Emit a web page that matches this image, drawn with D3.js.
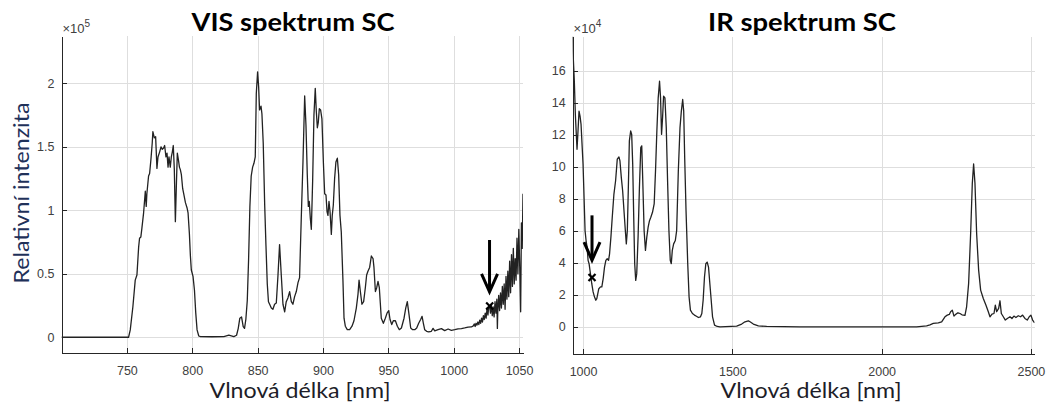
<!DOCTYPE html>
<html>
<head>
<meta charset="utf-8">
<script src="https://cdn.jsdelivr.net/npm/d3@7"></script>
<style>
  body { margin: 0; background: #fff; }
  .axis path, .axis line { stroke: #262626; shape-rendering: crispEdges; }
  .axis text { font-family: "Liberation Sans", Arial, sans-serif; font-size: 12.5px; fill: #404040; }
  .grid line { stroke: #dedede; stroke-width: 1; shape-rendering: crispEdges; }
  .line { fill: none; stroke: #222; stroke-width: 1.3; stroke-linejoin: round; }
  .title { font-family: Lato, "Open Sans", sans-serif; font-weight: bold; font-size: 25px; fill: #000; }
  .xlabel { font-family: Lato, "Open Sans", sans-serif; font-size: 21px; fill: #1d1d28; }
  .ylabel { font-family: Lato, "Open Sans", sans-serif; font-size: 21px; fill: #1f3159; }
  .expo { font-family: "Liberation Sans", Arial, sans-serif; font-size: 13px; fill: #404040; }
</style>
</head>
<body>
<svg id="chart" width="1047" height="403"></svg>
<script>
// VIS spectrum (intensity in units of 10^5)
const visWave = [
  700, 751.3, 752.6, 754.6, 756.4, 757.7, 759.0, 759.7, 760.7, 761.5,
  762.8, 764.1, 764.8, 765.3, 766.6, 767.4, 768.4, 769.4, 769.9, 771.0,
  772.0, 773.0, 773.8, 775.1, 776.1, 777.1, 778.1, 778.9, 779.9, 780.7,
  781.5, 782.2, 783.2, 784.0, 784.8, 785.5, 786.3, 787.1, 787.9, 788.6,
  789.4, 790.2, 790.9, 791.7, 792.7, 793.5, 794.8, 796.0, 796.8, 797.8,
  798.6, 799.3, 800.6, 801.7, 802.7, 803.7, 805.0, 806.3, 815.0, 824.2,
  828.0, 831.8, 833.9, 835.2, 836.4, 837.7, 839.0, 840.0, 841.0, 842.1,
  843.1, 844.1, 845.1, 846.2, 847.2, 848.2, 849.0, 850.0, 850.8, 851.5,
  852.6, 853.3, 854.3, 855.4, 856.4, 857.4, 858.3, 859.2, 860.5, 861.7,
  863.0, 864.3, 865.6, 866.8, 868.1, 869.4, 870.7, 871.9, 873.2, 874.5,
  875.8, 877.0, 878.3, 879.6, 880.9, 882.1, 883.4, 884.7, 886.0, 887.0,
  888.0, 888.8, 889.5, 890.3, 891.1, 892.1, 893.1, 894.1, 894.9, 895.7,
  896.4, 897.2, 898.2, 899.2, 900.3, 901.3, 902.3, 903.1, 903.8, 904.6,
  905.4, 906.4, 907.1, 907.9, 908.9, 909.9, 911.0, 912.0, 913.0, 914.0,
  915.3, 916.1, 917.1, 918.6, 920.4, 922.2, 923.7, 925.5, 926.8, 927.6,
  928.6, 929.8, 931.1, 932.4, 933.4, 934.4, 935.7, 937.0, 938.3, 939.0,
  940.1, 941.1, 942.1, 943.1, 944.6, 946.2, 947.7, 949.0, 950.3, 951.3,
  952.6, 953.8, 955.4, 956.9, 958.4, 960.0, 962.0, 963.3, 964.5, 965.8,
  967.1, 968.6, 970.2, 971.7, 973.2, 974.7, 975.8, 976.8, 977.8, 979.3,
  980.9, 982.9, 984.2, 985.5, 988.0, 990.6, 993.1, 995.7, 998.2, 1000.8,
  1003.3, 1005.9, 1008.4, 1011.0, 1013.5, 1015.0, 1015.7, 1016.4, 1017.1, 1017.8,
  1018.5, 1019.2, 1019.9, 1020.6, 1021.3, 1022.0, 1022.7, 1023.4, 1024.1, 1024.8,
  1025.5, 1026.2, 1026.9, 1027.5, 1028.1, 1028.8, 1029.5, 1030.2, 1030.9, 1031.6,
  1032.3, 1033.0, 1033.4, 1033.7, 1034.4, 1035.1, 1035.8, 1036.5, 1037.2, 1037.9,
  1038.6, 1039.3, 1040.0, 1040.7, 1041.4, 1042.1, 1042.8, 1043.5, 1044.2, 1044.9,
  1045.6, 1046.3, 1047.0, 1047.7, 1048.4, 1049.1, 1049.8, 1050.5, 1051.2, 1051.8,
  1052.4, 1053.0
];
const visInt = [
  0, 0, 0.058, 0.24, 0.45, 0.49, 0.71, 0.78, 0.79, 0.86,
  0.98, 1.15, 1.03, 1.13, 1.27, 1.29, 1.40, 1.53, 1.62, 1.57,
  1.58, 1.33, 1.42, 1.46, 1.50, 1.48, 1.49, 1.51, 1.42, 1.45,
  1.34, 1.42, 1.34, 1.42, 1.46, 1.51, 1.32, 0.91, 1.21, 1.45,
  1.40, 1.34, 1.32, 1.28, 1.17, 1.13, 1.06, 1.02, 0.98, 0.82,
  0.64, 0.53, 0.48, 0.37, 0.19, 0.058, 0.01, 0.005, 0.004, 0.005,
  0.016, 0.005, 0.016, 0.07, 0.15, 0.16, 0.084, 0.07, 0.14, 0.29,
  0.61, 1.03, 1.27, 1.34, 1.37, 1.42, 1.92, 2.09, 1.97, 1.79,
  1.82, 1.76, 1.53, 1.05, 0.72, 0.42, 0.28, 0.26, 0.23, 0.22,
  0.26, 0.27, 0.49, 0.73, 0.49, 0.26, 0.20, 0.28, 0.31, 0.36,
  0.28, 0.26, 0.32, 0.36, 0.43, 0.47, 0.94, 1.38, 1.90, 1.67,
  1.28, 1.03, 1.07, 0.94, 0.85, 1.23, 1.75, 1.96, 1.78, 1.65,
  1.69, 1.80, 1.79, 1.72, 1.38, 1.13, 1.12, 0.99, 0.96, 1.07,
  0.99, 0.81, 0.96, 1.04, 1.25, 1.38, 1.41, 1.28, 0.96, 0.83,
  0.44, 0.15, 0.087, 0.06, 0.06, 0.087, 0.13, 0.23, 0.34, 0.45,
  0.36, 0.26, 0.28, 0.39, 0.49, 0.52, 0.55, 0.64, 0.62, 0.55,
  0.36, 0.39, 0.44, 0.39, 0.15, 0.11, 0.15, 0.19, 0.21, 0.14,
  0.10, 0.13, 0.13, 0.087, 0.06, 0.073, 0.15, 0.23, 0.28, 0.18,
  0.073, 0.06, 0.06, 0.073, 0.11, 0.14, 0.165, 0.11, 0.06, 0.047,
  0.042, 0.047, 0.07, 0.05, 0.06, 0.068, 0.052, 0.065, 0.055, 0.06,
  0.066, 0.068, 0.073, 0.079, 0.081, 0.090, 0.105, 0.085, 0.110, 0.095,
  0.120, 0.100, 0.135, 0.110, 0.150, 0.120, 0.170, 0.140, 0.190, 0.150,
  0.230, 0.175, 0.250, 0.246, 0.190, 0.260, 0.170, 0.240, 0.160, 0.280,
  0.190, 0.300, 0.070, 0.200, 0.330, 0.210, 0.350, 0.230, 0.400, 0.260,
  0.420, 0.220, 0.480, 0.300, 0.520, 0.320, 0.600, 0.350, 0.650, 0.400,
  0.700, 0.420, 0.620, 0.450, 0.780, 0.500, 0.850, 0.550, 0.200, 0.900,
  0.700, 1.130
];

// IR spectrum (intensity in units of 10^4)
const irWave = [
  965, 966.3, 970.8, 974.2, 979.8, 983.1, 986.5, 989.9, 993.3, 996.6,
  1000, 1003.4, 1006.7, 1010.1, 1013.5, 1016.9, 1020.2, 1024.7, 1029.2, 1033.7,
  1038.2, 1042.7, 1046.1, 1049.4, 1052.8, 1058.4, 1062.9, 1067.4, 1071.9, 1076.4,
  1080.9, 1085.4, 1088.8, 1093.3, 1097.8, 1103.4, 1109.0, 1114.6, 1120.2, 1123.6,
  1128.1, 1132.6, 1137.1, 1141.6, 1144.9, 1148.3, 1151.7, 1155.1, 1159.5, 1162.9,
  1166.3, 1169.7, 1173.0, 1176.4, 1179.8, 1184.3, 1188.8, 1193.3, 1196.6, 1200.0,
  1204.5, 1209.0, 1213.5, 1218.0, 1222.5, 1227.0, 1232.6, 1238.2, 1242.7, 1247.2,
  1251.7, 1256.2, 1259.6, 1262.9, 1266.3, 1269.7, 1274.2, 1278.7, 1283.1, 1287.6,
  1292.1, 1295.5, 1298.9, 1303.4, 1309.0, 1313.5, 1319.1, 1324.7, 1329.2, 1333.7,
  1337.1, 1340.4, 1344.9, 1350.6, 1355.1, 1359.6, 1366.3, 1373.0, 1379.8, 1386.5,
  1393.3, 1397.8, 1402.2, 1406.7, 1411.2, 1415.7, 1420.2, 1424.7, 1429.2, 1433.7,
  1440.4, 1449.4, 1458.7, 1514.5, 1531.3, 1542.4, 1553.6, 1559.2, 1570.3, 1587.1,
  1615.0, 1726.6, 1949.8, 2117.2, 2150.7, 2161.9, 2173.0, 2189.8, 2201.0, 2212.1,
  2219.9, 2226.6, 2231.1, 2236.7, 2242.3, 2249.0, 2255.7, 2262.4, 2269.1, 2279.1,
  2284.6, 2291.4, 2298.1, 2303.7, 2308.1, 2312.6, 2318.2, 2324.9, 2331.6, 2340.5,
  2349.5, 2357.3, 2362.9, 2369.6, 2376.3, 2380.8, 2385.2, 2391.9, 2396.4, 2400.9,
  2407.6, 2414.3, 2421.0, 2429.9, 2436.4, 2443.1, 2449.8, 2457.6, 2465.4, 2472.1,
  2479.9, 2487.7, 2494.4, 2500.0, 2505.6, 2512.3
];
const irInt = [
  18.5, 17.2, 15.34, 13.26, 11.09, 12.23, 13.47, 13.16, 12.64, 11.40,
  10.16, 8.08, 6.01, 5.39, 4.97, 4.15, 3.94, 3.32, 2.69, 2.18,
  1.87, 1.66, 1.76, 2.07, 2.38, 2.49, 2.49, 3.01, 3.73, 4.15,
  4.25, 4.15, 4.56, 5.60, 6.84, 8.29, 9.12, 10.47, 10.61, 10.36,
  9.33, 8.50, 7.25, 6.01, 5.18, 6.01, 8.70, 11.61, 12.23, 12.02,
  10.16, 6.84, 3.94, 2.90, 3.32, 5.60, 8.70, 11.19, 11.30, 9.12,
  6.01, 4.77, 5.60, 6.22, 6.63, 6.84, 7.15, 7.67, 9.74, 12.23,
  14.30, 15.34, 14.30, 12.02, 13.06, 14.40, 14.30, 12.44, 9.12, 6.01,
  4.15, 3.94, 4.77, 5.18, 5.39, 6.01, 9.74, 12.44, 13.47, 14.20,
  13.47, 10.57, 7.25, 3.94, 1.87, 1.04, 0.83, 0.73, 0.66, 0.58,
  0.62, 0.83, 1.66, 3.11, 3.94, 4.04, 3.73, 2.69, 1.66, 0.62,
  0.10, 0.02, 0.0, 0.04, 0.17, 0.31, 0.375, 0.31, 0.17, 0.06,
  0.02, 0.0, 0.0, 0.0, 0.06, 0.125, 0.21, 0.25, 0.31, 0.625,
  0.73, 0.77, 0.94, 1.04, 0.67, 0.79, 0.875, 0.83, 0.75, 0.71,
  1.25, 2.71, 5.83, 8.96, 10.17, 8.96, 5.83, 3.54, 2.29, 1.77,
  1.35, 0.94, 0.625, 0.79, 0.83, 1.35, 0.94, 1.15, 1.625, 0.83,
  0.625, 0.42, 0.52, 0.625, 0.52, 0.67, 0.58, 0.69, 0.625, 0.73,
  0.52, 0.42, 0.625, 0.73, 0.42, 0.25
];

// Tick values and labels
const visXTicks = [750, 800, 850, 900, 950, 1000, 1050];
const visYTicks = [0, 0.5, 1, 1.5, 2];
const visYTickLabels = ["0", "0.5", "1", "1.5", "2"];
const irXTicks = [1000, 1500, 2000, 2500];
const irYTicks = [0, 2, 4, 6, 8, 10, 12, 14, 16];

// Marked point and arrow: [wavelength, value] / [wavelength, arrow top, arrow tip]
const visMarker = [1027.5, 0.246];
const visArrow = [1027.4, 0.766, 0.357];
const irMarker = [1030, 3.08];
const irArrow = [1030, 6.96, 4.16];

let svg = d3.select("#chart");

function drawPanel(p) {
    let x = d3.scaleLinear().domain(p.xDomain).range([p.left, p.right]);
    let y = d3.scaleLinear().domain(p.yDomain).range([p.bottom, p.top]);

    let g = svg.append("g");

    // Grid lines
    let grid = g.append("g").attr("class", "grid");
    grid.selectAll(".vx").data(p.xTicks).enter().append("line")
        .attr("x1", d => Math.round(x(d)) + 0.5).attr("x2", d => Math.round(x(d)) + 0.5)
        .attr("y1", p.top).attr("y2", p.bottom);
    grid.selectAll(".hy").data(p.yTicks).enter().append("line")
        .attr("x1", p.left).attr("x2", p.right)
        .attr("y1", d => Math.round(y(d)) + 0.5).attr("y2", d => Math.round(y(d)) + 0.5);

    // Spectrum line, clipped to the axes box
    g.append("clipPath").attr("id", p.id + "clip").append("rect")
        .attr("x", p.left).attr("y", p.top)
        .attr("width", p.right - p.left).attr("height", p.bottom - p.top);

    let valueline = d3.line()
        .x(function(d) { return x(d[0]); })
        .y(function(d) { return y(d[1]); });

    g.append("path")
        .datum(d3.zip(p.wave, p.inten))
        .attr("class", "line")
        .attr("clip-path", "url(#" + p.id + "clip)")
        .attr("d", valueline);

    // Axes (MATLAB style: ticks point inwards)
    g.append("g")
        .attr("class", "axis")
        .attr("transform", "translate(0," + p.bottom + ")")
        .call(d3.axisBottom(x).tickValues(p.xTicks).tickFormat(d3.format("d"))
            .tickSizeInner(-5).tickSizeOuter(0).tickPadding(13));

    g.append("g")
        .attr("class", "axis")
        .attr("transform", "translate(" + p.left + ",0)")
        .call(d3.axisLeft(y).tickValues(p.yTicks).tickFormat((d, i) => p.yTickLabels[i])
            .tickSizeInner(-5).tickSizeOuter(0).tickPadding(7));

    g.selectAll(".axis .domain").attr("stroke-width", 1);

    // Exponent label
    let ex = g.append("text").attr("class", "expo").attr("x", p.left + 1).attr("y", 33);
    ex.append("tspan").text("\u00d710");
    ex.append("tspan").attr("dy", -6).attr("font-size", "10px").text(p.exponent);

    // Arrow pointing to the marked point
    let ax = x(p.arrow[0]), aTop = y(p.arrow[1]), aTip = y(p.arrow[2]);
    g.append("line")
        .attr("x1", ax).attr("x2", ax).attr("y1", aTop).attr("y2", aTip - 2)
        .attr("stroke", "#000").attr("stroke-width", 3);
    g.append("path")
        .attr("d", "M" + (ax - 8) + "," + (aTip - 18) + "L" + ax + "," + aTip + "L" + (ax + 8) + "," + (aTip - 18))
        .attr("fill", "none").attr("stroke", "#000").attr("stroke-width", 3)
        .attr("stroke-linejoin", "miter");

    // x marker
    let mx = x(p.marker[0]), my = y(p.marker[1]);
    g.append("path")
        .attr("d", "M" + (mx - 3.5) + "," + (my - 3.5) + "L" + (mx + 3.5) + "," + (my + 3.5) +
                   "M" + (mx - 3.5) + "," + (my + 3.5) + "L" + (mx + 3.5) + "," + (my - 3.5))
        .attr("stroke", "#000").attr("stroke-width", 2.2);

    // Title and axis labels
    g.append("text").attr("class", "title")
        .attr("x", p.titleX).attr("y", 31).attr("text-anchor", "middle")
        .attr("textLength", p.titleLen).attr("lengthAdjust", "spacingAndGlyphs")
        .text(p.title);

    g.append("text").attr("class", "xlabel")
        .attr("x", p.xLabelX).attr("y", 398).attr("text-anchor", "middle")
        .attr("textLength", 181).attr("lengthAdjust", "spacingAndGlyphs")
        .text("Vlnová délka [nm]");
}

drawPanel({
    id: "vis", left: 61.5, right: 523, top: 36.2, bottom: 353,
    xDomain: [700, 1053], yDomain: [-0.124, 2.371],
    xTicks: visXTicks, yTicks: visYTicks, yTickLabels: visYTickLabels,
    wave: visWave, inten: visInt, exponent: "5",
    marker: visMarker, arrow: visArrow,
    title: "VIS spektrum SC", titleX: 293, titleLen: 203, xLabelX: 300
});

drawPanel({
    id: "ir", left: 572.6, right: 1034.5, top: 36.7, bottom: 354,
    xDomain: [965, 2512], yDomain: [-1.70, 18.12],
    xTicks: irXTicks, yTicks: irYTicks, yTickLabels: irYTicks.map(String),
    wave: irWave, inten: irInt, exponent: "4",
    marker: irMarker, arrow: irArrow,
    title: "IR spektrum SC", titleX: 802, titleLen: 188, xLabelX: 811
});

// y axis label of the left panel
svg.append("text").attr("class", "ylabel")
    .attr("transform", "translate(29,193) rotate(-90)")
    .attr("text-anchor", "middle")
    .attr("textLength", 181).attr("lengthAdjust", "spacingAndGlyphs")
    .text("Relativní intenzita");
</script>
</body>
</html>
